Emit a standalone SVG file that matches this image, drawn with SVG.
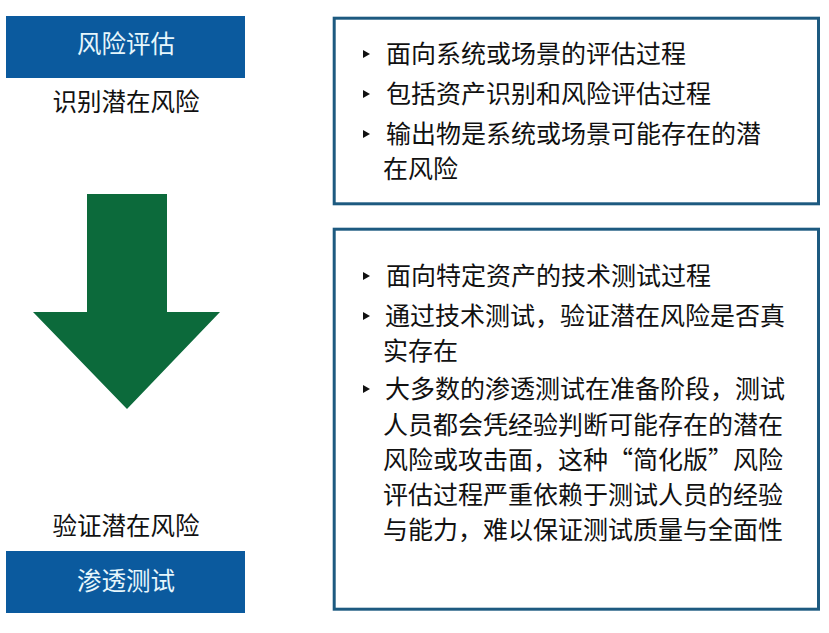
<svg xmlns="http://www.w3.org/2000/svg" width="829" height="633" viewBox="0 0 829 633">
<style>
.lbl{font-family:"Noto Sans CJK SC","Noto Sans",sans-serif;font-size:24.5px;text-anchor:middle}
.head{fill:#0b5a9e}
.headtxt{fill:#e6f6fc}
.dark{fill:#111111}
.panel{fill:#ffffff;stroke:#1d5a80;stroke-width:3}
.body{font-family:"Noto Sans CJK SC","Noto Sans",sans-serif;font-size:25px;fill:#111111}
.bul{fill:#111111}
</style>
<rect width="829" height="633" fill="#ffffff"/>
<g id="risk-assessment">
<rect class="head" x="6" y="16" width="239" height="62"/>
<text class="lbl headtxt" x="126" y="53">风险评估</text>
<text class="lbl dark" x="126" y="111">识别潜在风险</text>
</g>
<g id="arrow">
<polygon points="87,194 167,194 167,312 220,312 127,409 33,312 87,312" fill="#0c6a3b"/>
</g>
<g id="pentest">
<text class="lbl dark" x="126" y="535">验证潜在风险</text>
<rect class="head" x="6" y="551" width="239" height="62"/>
<text class="lbl headtxt" x="126" y="590">渗透测试</text>
</g>
<g id="panel-risk">
<rect class="panel" x="334.2" y="18.2" width="484.3" height="185.6"/>
<polygon class="bul" points="363,50 370,54 363,58"/>
<text class="body" x="386" y="63">面向系统或场景的评估过程</text>
<polygon class="bul" points="363,90 370,94 363,98"/>
<text class="body" x="386" y="103">包括资产识别和风险评估过程</text>
<polygon class="bul" points="363,130 370,134 363,138"/>
<text class="body" x="386" y="143">输出物是系统或场景可能存在的潜</text>
<text class="body" x="383" y="178">在风险</text>
</g>
<g id="panel-pentest">
<rect class="panel" x="334.2" y="229.2" width="484.3" height="380"/>
<polygon class="bul" points="363,272 370,276 363,280"/>
<text class="body" x="386" y="285">面向特定资产的技术测试过程</text>
<polygon class="bul" points="363,312 370,316 363,320"/>
<text class="body" x="385" y="325">通过技术测试，验证潜在风险是否真</text>
<text class="body" x="383" y="360">实存在</text>
<polygon class="bul" points="363,385 370,389 363,393"/>
<text class="body" x="385" y="398">大多数的渗透测试在准备阶段，测试</text>
<text class="body" x="383" y="434">人员都会凭经验判断可能存在的潜在</text>
<text class="body" x="383" y="469">风险或攻击面，这种“简化版”风险</text>
<text class="body" x="383" y="504">评估过程严重依赖于测试人员的经验</text>
<text class="body" x="383" y="539">与能力，难以保证测试质量与全面性</text>
</g>
<g id="connectors"></g>
</svg>
